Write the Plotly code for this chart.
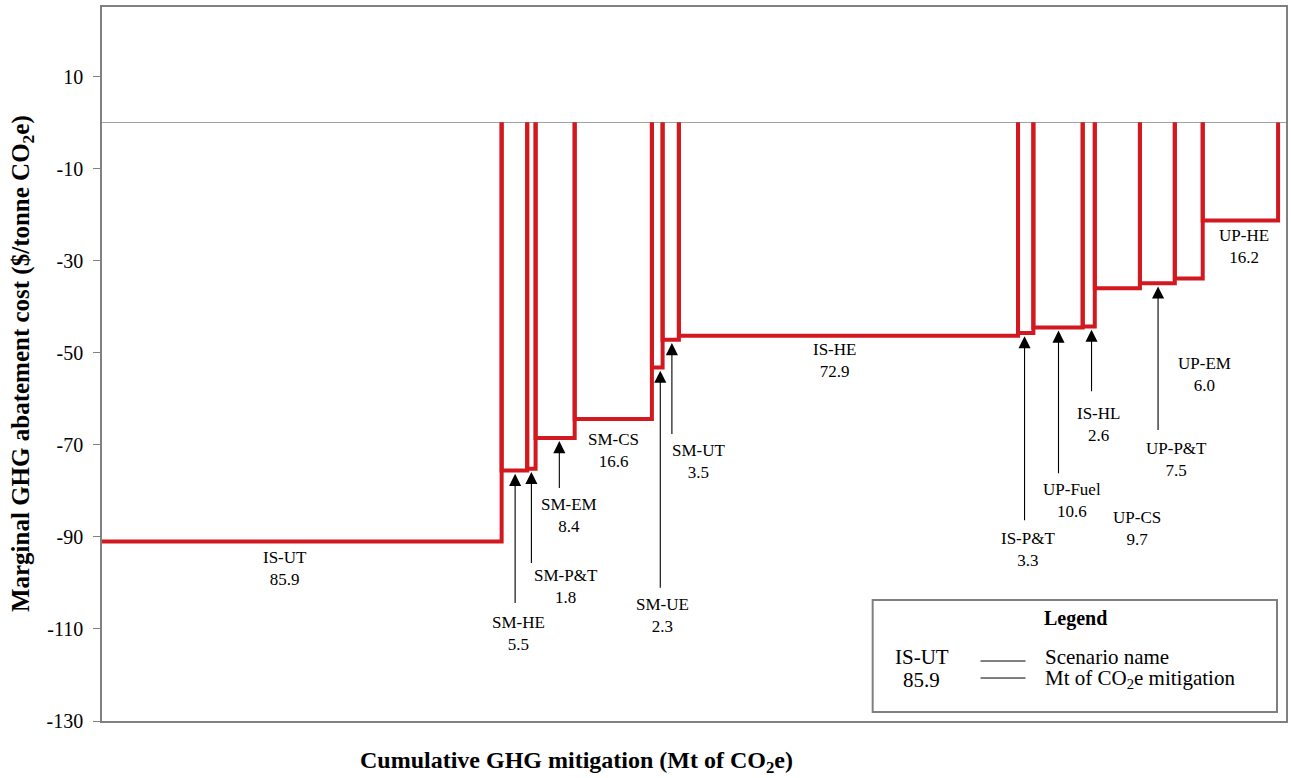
import plotly.graph_objects as go

# ---------------- data ----------------
scenarios = ["IS-UT", "SM-HE", "SM-P&T", "SM-EM", "SM-CS", "SM-UE", "SM-UT", "IS-HE",
             "IS-P&T", "UP-Fuel", "IS-HL", "UP-CS", "UP-P&T", "UP-EM", "UP-HE"]
mitigation = [85.9, 5.5, 1.8, 8.4, 16.6, 2.3, 3.5, 72.9, 3.3, 10.6, 2.6, 9.7, 7.5, 6.0, 16.2]
cost = [-91.0, -75.6, -75.2, -68.5, -64.4, -53.2, -47.2, -46.3, -45.7, -44.5, -44.3,
        -36.0, -34.9, -33.9, -21.3]
ytick_vals = [10, -10, -30, -50, -70, -90, -110, -130]
ytick_text = [str(v) for v in ytick_vals]

# ---------------- layout helpers (positions only) ----------------
label_pos = {
    "IS-UT": (39.3, -96.9), "SM-HE": (89.5, -111.0), "SM-P&T": (99.8, -100.8),
    "SM-EM": (100.4, -85.4), "SM-CS": (109.9, -71.3), "SM-UE": (120.4, -107.1),
    "SM-UT": (128.3, -73.7), "IS-HE": (157.5, -51.7), "IS-P&T": (199.1, -92.8),
    "UP-Fuel": (208.4, -82.1), "IS-HL": (214.2, -65.6), "UP-CS": (222.5, -88.2),
    "UP-P&T": (230.9, -73.2), "UP-EM": (236.9, -54.8), "UP-HE": (245.5, -27.0),
}
arrow_pos = {
    "SM-HE": (88.8, -104.7), "SM-P&T": (92.3, -96.0), "SM-EM": (98.3, -79.7),
    "SM-UE": (120.0, -101.4), "SM-UT": (122.5, -68.0), "IS-P&T": (198.3, -86.7),
    "UP-Fuel": (205.6, -76.5), "IS-HL": (212.7, -58.7), "UP-P&T": (227.0, -67.1),
}

RED = "#d2191f"
FONT = "Liberation Serif"

xs, ys = [], []
start = 0.0
for i, (w, c) in enumerate(zip(mitigation, cost)):
    end = start + w
    if i == 0:
        xs += [start, end, end, None]
        ys += [c, c, 0, None]
    else:
        xs += [start, start, end, end, None]
        ys += [0, c, c, 0, None]
    start = end

fig = go.Figure()
fig.add_trace(go.Scatter(x=xs, y=ys, mode="lines",
                         line=dict(color=RED, width=4), hoverinfo="skip",
                         showlegend=False, cliponaxis=False))

annotations = []
for name, w in zip(scenarios, mitigation):
    lx, ly = label_pos[name]
    annotations.append(dict(x=lx, y=ly, xref="x", yref="y", showarrow=False,
                            xanchor="center", yanchor="middle",
                            text=f"{name}<br>{w:.1f}",
                            font=dict(family=FONT, size=17, color="black")))
for name, c in zip(scenarios, cost):
    if name in arrow_pos:
        axx, tail = arrow_pos[name]
        annotations.append(dict(x=axx, y=c - 0.7, ax=axx, ay=tail, xref="x", yref="y",
                                axref="x", ayref="y", text="", showarrow=True,
                                arrowhead=2, arrowsize=2.2, arrowwidth=1.1,
                                arrowcolor="black", standoff=0))

def pnote(x, y, text, size, xanchor="center", yanchor="middle", angle=0):
    return dict(x=x, y=y, xref="paper", yref="paper", showarrow=False, text=text,
                xanchor=xanchor, yanchor=yanchor, textangle=angle,
                font=dict(family=FONT, size=size, color="black"))

annotations += [
    pnote(0.401, -0.0574, "<b>Cumulative GHG mitigation (Mt of CO<sub>2</sub>e)</b>", 24),
    pnote(-0.0675, 0.5, "<b>Marginal GHG abatement cost ($/tonne CO<sub>2</sub>e)</b>", 25,
          angle=-90),
    pnote(0.8221, 0.1429, "<b>Legend</b>", 20),
    pnote(0.6922, 0.0900, "IS-UT", 21),
    pnote(0.6922, 0.0580, "85.9", 21),
    pnote(0.7951, 0.0900, "Scenario name", 21, xanchor="left"),
    pnote(0.7951, 0.0595, "Mt of CO<sub>2</sub>e mitigation", 21, xanchor="left"),
]

shapes = [
    dict(type="rect", xref="paper", yref="paper", x0=0.6509, x1=0.9924, y0=0.0126, y1=0.1695,
         line=dict(color="#7f7f7f", width=2), fillcolor="white", layer="above"),
    dict(type="line", xref="paper", yref="paper", x0=0.742, x1=0.780, y0=0.084, y1=0.084,
         line=dict(color="black", width=1)),
    dict(type="line", xref="paper", yref="paper", x0=0.742, x1=0.780, y0=0.0602, y1=0.0602,
         line=dict(color="black", width=1)),
]

fig.update_layout(
    width=1291, height=778,
    margin=dict(l=102, r=3, t=7, b=57),
    plot_bgcolor="white", paper_bgcolor="white",
    font=dict(family=FONT, size=17, color="black"),
    xaxis=dict(range=[0, 254.5], showticklabels=False, ticks="", showgrid=False,
               zeroline=False, showline=True, linecolor="#808080", linewidth=1.5,
               mirror=True),
    yaxis=dict(range=[-130, 25.1], tickvals=ytick_vals, ticktext=ytick_text,
               ticks="outside", ticklen=7, ticklabelstandoff=6,
               tickcolor="#808080", tickwidth=1, showgrid=False,
               zeroline=True, zerolinecolor="#a0a0a0", zerolinewidth=1.2,
               showline=True, linecolor="#808080", linewidth=1.5, mirror=True,
               tickfont=dict(family=FONT, size=20, color="black")),
    annotations=annotations, shapes=shapes, showlegend=False,
)

fig.write_html("out.html", config={"displayModeBar": False},
               post_script="document.body.style.margin='0px';document.body.style.overflow='hidden';")
